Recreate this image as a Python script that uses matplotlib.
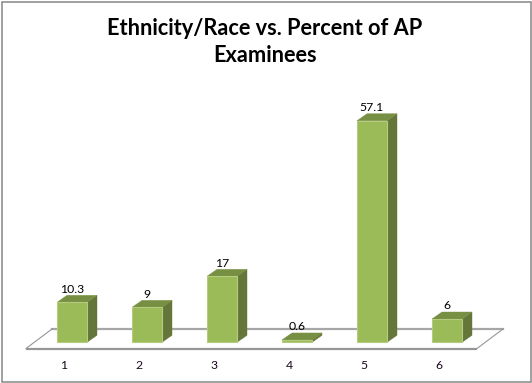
import matplotlib
matplotlib.use("Agg")
import matplotlib.pyplot as plt
from matplotlib.patches import Polygon, Rectangle

categories = ["1", "2", "3", "4", "5", "6"]
values = [10.3, 9, 17, 0.6, 57.1, 6]
value_labels = ["10.3", "9", "17", "0.6", "57.1", "6"]
title = "Ethnicity/Race vs. Percent of AP\nExaminees"

W, H = 532, 383
PX_X = 75.0      # pixels per category
PX_Y = 3.88      # pixels per value unit
BASE_PX = 342.3  # y pixel of value 0
FLOOR_PX = 348.5 # y pixel of the floor's front edge
BAR_W = 30 / PX_X
DX = 10 / PX_X   # 3-D depth
DY = 7 / PX_Y

FRONT, TOP, SIDE = "#9BBB59", "#778F42", "#64763A"
EDGE = "#B5CC7E"
FLOOR = "#A6A6A6"

fig = plt.figure(figsize=(W / 100, H / 100), dpi=100, facecolor="white")
ax = fig.add_axes([0, (H - FLOOR_PX) / H, 1, FLOOR_PX / H])
ax.set_xlim(1 - 72 / PX_X, 1 + (W - 72) / PX_X)
ax.set_ylim(-(FLOOR_PX - BASE_PX) / PX_Y, BASE_PX / PX_Y)
ax.axis("on")
ax.patch.set_visible(False)
for s in ax.spines.values():
    s.set_visible(False)

xs = list(range(1, len(values) + 1))

# Floor of the 3-D chart
y0 = -(FLOOR_PX - BASE_PX) / PX_Y
y1 = (BASE_PX - 329) / PX_Y
xl0, xr0 = 1 - (72 - 26) / PX_X, 1 + (477 - 72) / PX_X
xl1, xr1 = 1 - (72 - 52) / PX_X, 1 + (503 - 72) / PX_X
ax.plot([xl1, xr1], [y1, y1], color=FLOOR, lw=1.6, zorder=1, clip_on=False)
ax.plot([xl0, xr0], [y0, y0], color="#969696", lw=1.6, zorder=1, clip_on=False, solid_capstyle="butt")
ax.plot([xl0, xl1], [y0, y1], color="#969696", lw=0.8, zorder=1, clip_on=False)
ax.plot([xr0, xr1], [y0, y1], color="#969696", lw=0.8, zorder=1, clip_on=False)

# Bars: front face through ax.bar, depth faces derived from each value
ax.bar(xs, values, width=BAR_W, color=FRONT, edgecolor=EDGE, linewidth=0.8, zorder=3)
for x, v, lab in zip(xs, values, value_labels):
    l, r = x - BAR_W / 2, x + BAR_W / 2
    ax.add_patch(Polygon([(r, 0), (r + DX, DY), (r + DX, v + DY), (r, v)],
                         closed=True, facecolor=SIDE, edgecolor=SIDE, lw=0.3, zorder=2))
    ax.add_patch(Polygon([(l, v), (l + DX, v + DY), (r + DX, v + DY), (r, v)],
                         closed=True, facecolor=TOP, edgecolor=TOP, lw=0.3, zorder=2))
    ax.annotate(lab, (x, v), xytext=(0, 9.4), textcoords="offset points",
                ha="center", va="center", fontsize=8.8, family="Lato", color="black", zorder=5)

# Category labels sit on the centre of each floor slot (left of the bars)
ax.set_xticks([x - 8 / PX_X for x in xs])
ax.set_xticklabels(categories, family="Lato", fontsize=8.8, color="#1a0a1a")
ax.set_yticks([])
ax.tick_params(axis="x", length=0, pad=8.4)

# Title
fig.text(265 / W, 1 - 42 / H, title, ha="center", va="center", fontsize=15.7,
         family="Lato", weight="bold", color="black", linespacing=1.38)

# Chart-area border
fig.add_artist(Rectangle((1.5 / W, 1.5 / H), (W - 2.5) / W, (H - 3) / H,
                         transform=fig.transFigure, fill=False, edgecolor="#868686", lw=1.1))

fig.savefig("out.png", dpi=100, facecolor="white")
